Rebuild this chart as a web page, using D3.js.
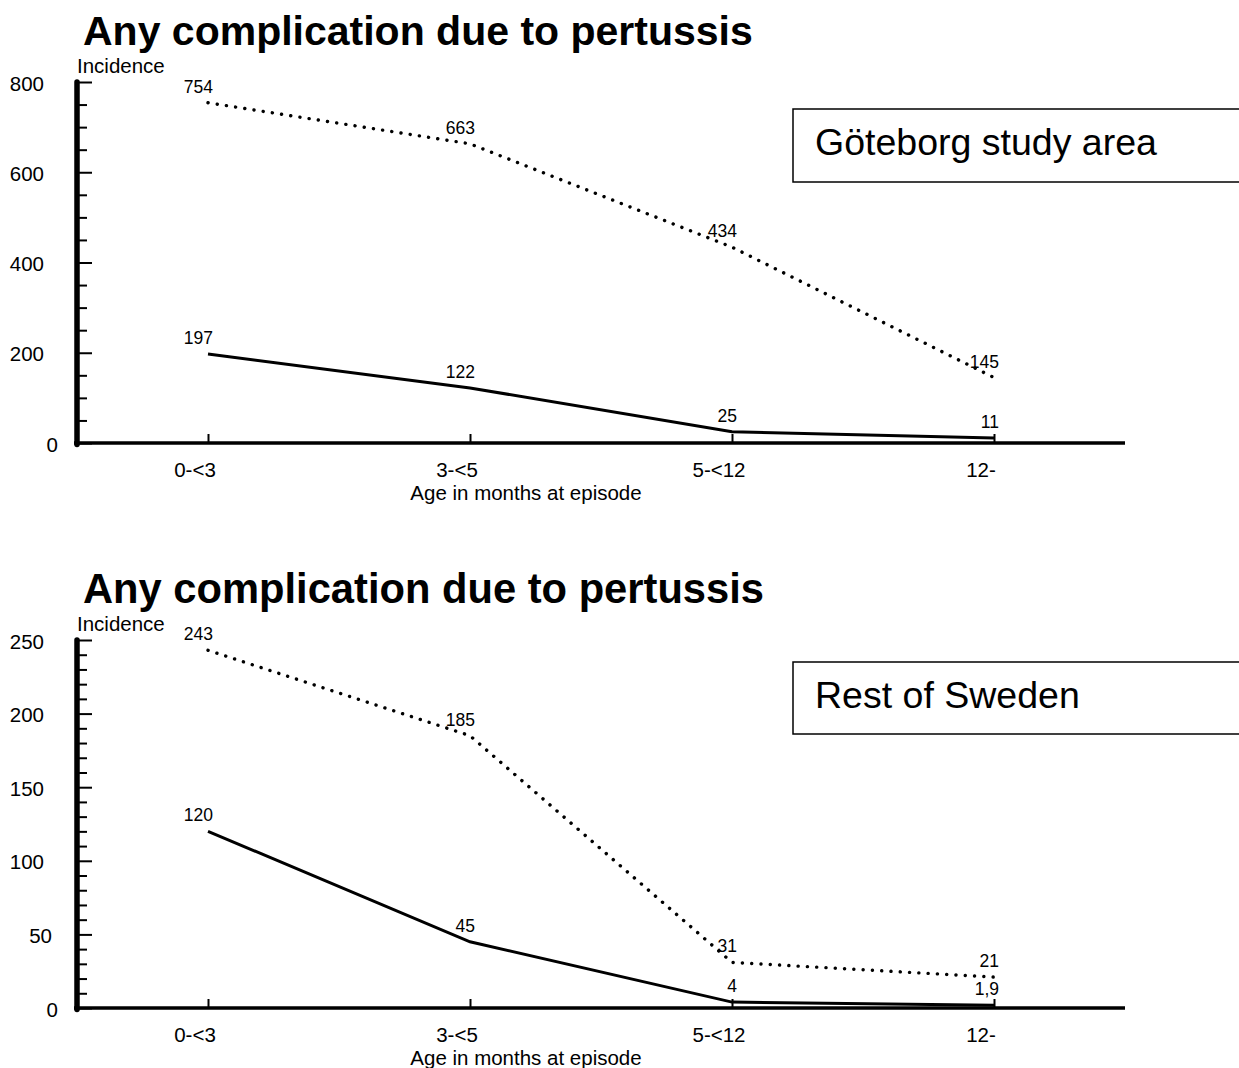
<!DOCTYPE html>
<html>
<head>
<meta charset="utf-8">
<script src="https://cdn.jsdelivr.net/npm/d3@7"></script>
<style>
  html, body { margin: 0; padding: 0; background: #fff; }
  svg { display: block; }
  text { font-family: "Liberation Sans", Arial, sans-serif; fill: #000; }
</style>
</head>
<body>
<svg id="chart" width="1239" height="1068"></svg>
<script>
// ---- data ----
const categories = ["0-<3", "3-<5", "5-<12", "12-"];
const titleText = "Any complication due to pertussis";
const yAxisLabel = "Incidence";
const xAxisLabel = "Age in months at episode";

const gbgLabel = "Göteborg study area";
const gbgSolid = [197, 122, 25, 11];
const gbgDotted = [754, 663, 434, 145];
const gbgMajorTicks = [0, 200, 400, 600, 800];
const gbgMinorStep = 50;

const rosLabel = "Rest of Sweden";
const rosSolid = [120, 45, 4, 1.9];
const rosDotted = [243, 185, 31, 21];
const rosMajorTicks = [0, 50, 100, 150, 200, 250];
const rosMinorStep = 10;

// ---- drawing ----
const svg = d3.select("#chart");
const fmt = v => String(v).replace(".", ",");

function panel(opts) {
  const g = svg.append("g");
  const xLeft = 77, xRight = 1125;
  const yMax = opts.major[opts.major.length - 1];
  const x = d3.scalePoint().domain(categories).range([xLeft, xRight]).padding(0.5);
  const y = d3.scaleLinear().domain([0, yMax]).range([opts.yBottom, opts.yTop]);

  // title
  g.append("text").attr("x", 83).attr("y", opts.titleY)
    .attr("font-size", opts.titleSize).attr("font-weight", "bold").text(titleText);

  // y axis label
  g.append("text").attr("x", 77).attr("y", opts.yTop - 9)
    .attr("font-size", 20.5).text(yAxisLabel);

  // minor ticks
  const minor = d3.range(0, yMax + 0.001, opts.minorStep).filter(v => !opts.major.includes(v));
  g.append("g").attr("transform", `translate(${xLeft},0)`)
    .call(d3.axisRight(y).tickValues(minor).tickSize(10).tickFormat(""))
    .call(s => s.select(".domain").remove())
    .call(s => s.selectAll("line").attr("stroke", "#000").attr("stroke-width", 2));
  // major ticks
  g.append("g").attr("transform", `translate(${xLeft},0)`)
    .call(d3.axisRight(y).tickValues(opts.major).tickSize(15).tickFormat(""))
    .call(s => s.select(".domain").remove())
    .call(s => s.selectAll("line").attr("stroke", "#000").attr("stroke-width", 2));

  // y tick labels
  const rightEdge = {1: 58, 2: 52, 3: 44};
  g.selectAll(".ylab").data(opts.major).join("text")
    .attr("x", d => rightEdge[String(d).length])
    .attr("y", d => y(d) + 8.5)
    .attr("text-anchor", "end").attr("font-size", 20.5).text(d => d);

  // x ticks (upward)
  g.append("g").attr("transform", `translate(0,${opts.yBottom})`)
    .call(d3.axisTop(x).tickSize(9).tickFormat(""))
    .call(s => s.select(".domain").remove())
    .call(s => s.selectAll("line").attr("stroke", "#000").attr("stroke-width", 2));

  // axes lines
  g.append("line").attr("x1", xLeft - 3).attr("x2", xRight)
    .attr("y1", opts.yBottom).attr("y2", opts.yBottom)
    .attr("stroke", "#000").attr("stroke-width", 3.5);
  g.append("line").attr("x1", xLeft).attr("x2", xLeft)
    .attr("y1", y(yMax)).attr("y2", opts.yBottom + 1.5)
    .attr("stroke", "#000").attr("stroke-width", 5.5).attr("stroke-linecap", "round");

  // x tick labels (offset left of the tick, as in the original)
  g.selectAll(".xlab").data(categories).join("text")
    .attr("x", d => x(d) - 13).attr("y", opts.yBottom + 34)
    .attr("text-anchor", "middle").attr("font-size", 20.5).text(d => d);
  g.append("text").attr("x", 526).attr("y", opts.yBottom + 57)
    .attr("text-anchor", "middle").attr("font-size", 20.5).text(xAxisLabel);

  const line = d3.line().x((d, i) => x(categories[i])).y(d => y(d));

  // dotted series
  g.append("path").datum(opts.dotted).attr("d", line)
    .attr("fill", "none").attr("stroke", "#000").attr("stroke-width", 3.4)
    .attr("stroke-linecap", "round").attr("stroke-dasharray", "0.1 9.2");
  // solid series
  g.append("path").datum(opts.solid).attr("d", line)
    .attr("fill", "none").attr("stroke", "#000").attr("stroke-width", 3);

  // data labels
  [opts.dotted, opts.solid].forEach(series => {
    g.selectAll(null).data(series).join("text")
      .attr("x", (d, i) => x(categories[i]) + 5)
      .attr("y", d => y(d) - 10)
      .attr("text-anchor", "end").attr("font-size", 17.5).text(d => fmt(d));
  });

  // legend box
  g.append("rect").attr("x", 793).attr("y", opts.boxTop)
    .attr("width", 520).attr("height", opts.boxBottom - opts.boxTop)
    .attr("fill", "#fff").attr("stroke", "#000").attr("stroke-width", 1.5);
  g.append("text").attr("x", 815).attr("y", opts.boxTop + 46)
    .attr("font-size", 37.5).text(opts.label);
}

panel({
  titleY: 45, titleSize: 41, yTop: 82, yBottom: 443,
  major: gbgMajorTicks, minorStep: gbgMinorStep,
  solid: gbgSolid, dotted: gbgDotted, label: gbgLabel,
  boxTop: 109, boxBottom: 182
});
panel({
  titleY: 603, titleSize: 41.7, yTop: 640, yBottom: 1008,
  major: rosMajorTicks, minorStep: rosMinorStep,
  solid: rosSolid, dotted: rosDotted, label: rosLabel,
  boxTop: 662, boxBottom: 734
});
</script>
</body>
</html>
